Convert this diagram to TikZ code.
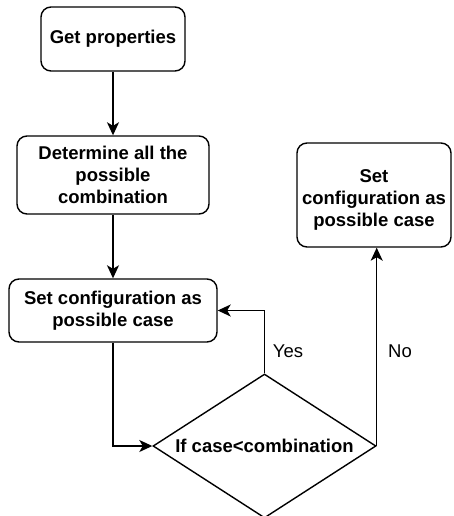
\documentclass[tikz,border=0pt]{standalone}
\usepackage{fontspec}
\setmainfont{Liberation Sans}
\usetikzlibrary{shapes.geometric,arrows.meta}
\begin{document}
\begin{tikzpicture}[x=1pt,y=-1pt,
  every node/.style={font=\fontsize{18.5}{22}\selectfont},
  proc/.style={draw, line width=1.4pt, rounded corners=10pt, align=center,
    inner sep=0pt, font=\fontsize{18.5}{22}\selectfont\bfseries},
  decide/.style={draw, diamond, line width=1.4pt, inner sep=0pt,
    font=\fontsize{18.5}{22}\selectfont\bfseries},
  flow/.style={line width=1.4pt, -{Stealth[length=13pt,width=12pt,inset=3.5pt]}},
  lbl/.style={inner sep=0pt}]
\useasboundingbox (0,0) rectangle (453,516);
\clip (0,0) rectangle (453,516);

% process boxes
\node[proc, minimum width=144pt, minimum height=64pt] (get) at (113,39) {Get properties};
\node[proc, minimum width=192pt, minimum height=78pt] (comb) at (113,175)
  {Determine all the\\possible\\combination};
\node[proc, minimum width=208pt, minimum height=63pt] (setL) at (113,310.5)
  {Set configuration as\\possible case};
\node[proc, minimum width=154pt, minimum height=104pt] (setR) at (374,195)
  {\raisebox{-5pt}[\height][\depth]{\begin{tabular}{@{}c@{}}Set\\configuration as\\possible case\end{tabular}}};

% decision
\node[decide, minimum width=223pt, minimum height=144pt] (test) at (264.5,446)
  {\makebox[0pt]{If case<combination}};

% connectors
\draw[flow] (get) -- (comb);
\draw[flow] (comb) -- (setL);
\draw[flow] (setL.south) |- (test.west);
\draw[flow] (test.north) |- (setL.east);
\draw[flow] (test.east) -- (test.east |- setR.south);

% branch labels
\node[lbl] (yes) at (288,351) {Yes};
\node[lbl] (no) at (400,351) {No};
\end{tikzpicture}
\end{document}
